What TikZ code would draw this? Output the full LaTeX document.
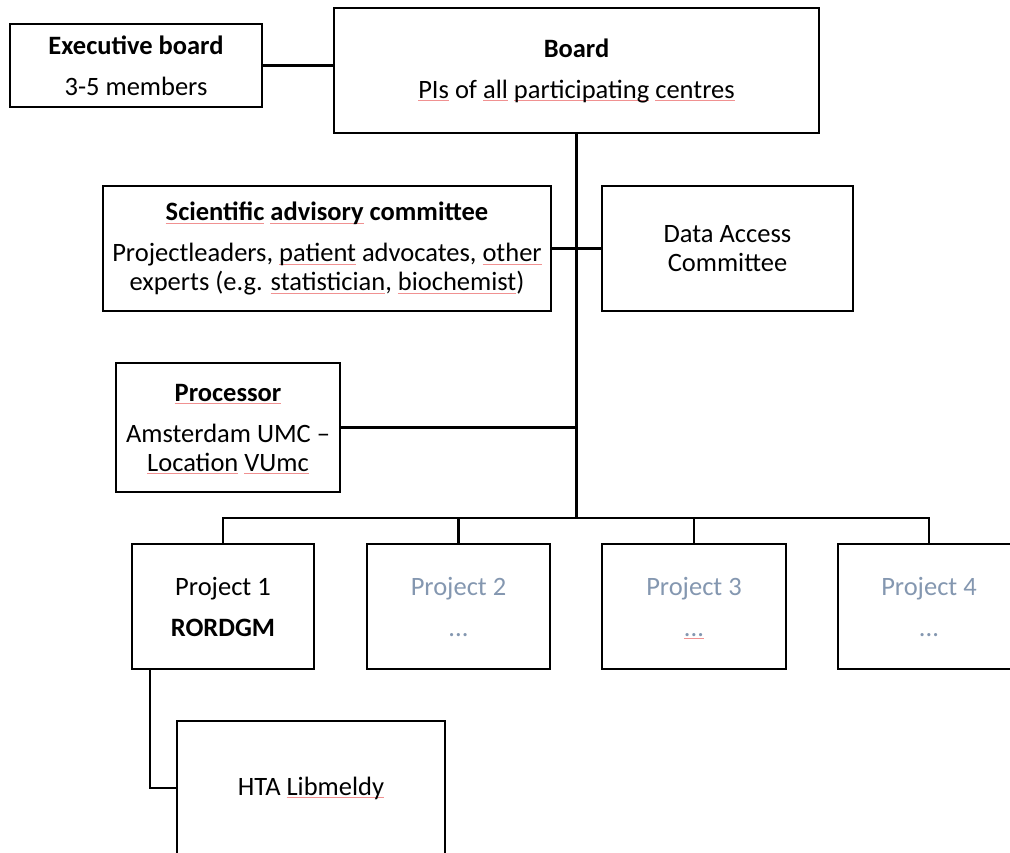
\documentclass[tikz,border=0pt]{standalone}
\usepackage{fontspec}
\setmainfont{Carlito}
\definecolor{projgray}{RGB}{132,151,176}
\definecolor{splred}{RGB}{240,145,145}
\newsavebox\splbox
\newcommand\spl[1]{\sbox\splbox{#1}\rlap{\smash{\color{splred}\vrule height -2.2pt depth 3.2pt width \wd\splbox}}\usebox\splbox}
\tikzset{
  orgbox/.style={draw=black, line width=2.3pt, inner sep=0pt, align=center,
    font=\fontsize{26.5}{29}\selectfont},
  conn/.style={draw=black, line width=2.1pt},
  spine/.style={draw=black, line width=2.7pt},
  faded/.style={text=projgray}
}
\begin{document}
\begin{tikzpicture}[x=1pt,y=-1pt]
\useasboundingbox (0,0) rectangle (1010,852);
\clip (0,0) rectangle (1010,852);
% boxes
\node[orgbox, minimum width=252pt, minimum height=83pt] (exec) at (136,65.5)
  {\textbf{Executive board}\\[12pt]3-5 members};
\node[orgbox, minimum width=485pt, minimum height=125pt] (board) at (576.5,70.5)
  {\textbf{Board}\\[12pt]\spl{PIs} of \spl{all} \spl{participating} \spl{centres}};
\node[orgbox, minimum width=448pt, minimum height=125pt] (sac) at (327,248.5)
  {\textbf{\spl{Scientific} \spl{advisory} committee}\\[12pt]Projectleaders, \spl{patient} advocates, \spl{other}\\experts (e.g. \spl{statistician}, \spl{biochemist})};
\node[orgbox, minimum width=251pt, minimum height=125pt] (dac) at (727.5,248.5)
  {Data Access\\Committee};
\node[orgbox, minimum width=224pt, minimum height=129pt] (proc) at (228,427.5)
  {\textbf{\spl{Processor}}\\[12pt]Amsterdam UMC --\\\spl{Location} \spl{VUmc}};
\node[orgbox, minimum width=182pt, minimum height=125pt] (p1) at (223,606.5)
  {Project 1\\[12pt]\textbf{RORDGM}};
\node[orgbox, faded, minimum width=183pt, minimum height=125pt] (p2) at (458.5,606.5)
  {Project 2\\[12pt]...};
\node[orgbox, faded, minimum width=184pt, minimum height=125pt] (p3) at (694,606.5)
  {Project 3\\[12pt]\spl{...}};
\node[orgbox, faded, minimum width=182pt, minimum height=125pt] (p4) at (929,606.5)
  {Project 4\\[12pt]...};
\node[orgbox, minimum width=268pt, minimum height=134pt] (hta) at (311,788)
  {HTA \spl{Libmeldy}};
% connectors
\coordinate (bus) at (576.5,518);
\coordinate (branch) at (150,669);
\draw[conn] (exec.east) -- (exec.east -| board.west);
\draw[spine] (board.south) -- (bus);
\draw[conn] (sac.east) -- (dac.west);
\draw[conn] (proc.east) -- (proc.east -| board.south);
\draw[conn] (p1.north) |- (bus);
\draw[conn] (p2.north) |- (bus);
\draw[conn] (p3.north) |- (bus);
\draw[conn] (p4.north) |- (bus);
\draw[conn] (branch) |- (hta.west);
\end{tikzpicture}
\end{document}
